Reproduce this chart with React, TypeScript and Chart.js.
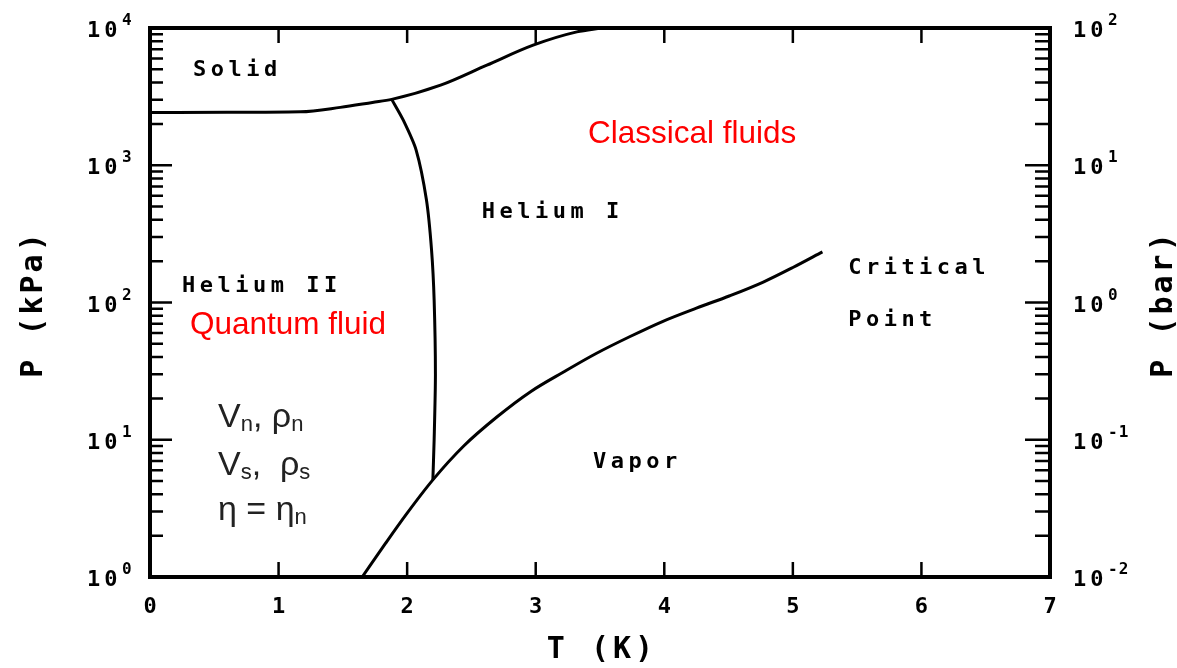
import React, { useEffect, useRef } from "react";
import { Chart, registerables } from "chart.js";
Chart.register(...registerables);

// Melting curve (solid / liquid boundary), T in K, P in kPa
const meltT = [0, 0.6, 1.17, 1.48, 1.73, 1.88, 2.26, 2.62, 2.98, 3.32, 3.51];
const meltP = [2420, 2430, 2450, 2640, 2870, 3020, 3830, 5360, 7500, 9370, 10000];

// Lambda line (He I / He II boundary)
const lambdaT = [1.88, 1.97, 2.07, 2.15, 2.19, 2.21, 2.22, 2.21, 2.2];
const lambdaP = [3020, 2130, 1290, 560, 240, 104, 30, 10, 5.1];

// Saturated vapour pressure curve up to the critical point
const vaporT = [1.65, 1.83, 2.0, 2.2, 2.44, 2.7, 2.96, 3.22, 3.47, 3.73, 3.99, 4.25, 4.51, 4.77, 5.0, 5.23];
const vaporP = [1.0, 1.75, 2.92, 5.1, 9.0, 14.7, 22.4, 31.3, 42.5, 56.3, 73, 91, 112, 141, 180, 234];

// Axes
const xTickValues = [0, 1, 2, 3, 4, 5, 6, 7];
const xTickLabels = ["0", "1", "2", "3", "4", "5", "6", "7"];
const yMajorKPa = [1, 10, 100, 1000, 10000];
const yExpKPa = ["0", "1", "2", "3", "4"];
const yMajorBar = [0.01, 0.1, 1, 10, 100];
const yExpBar = ["-2", "-1", "0", "1", "2"];
const minorMultipliers = [2, 3, 4, 5, 6, 7, 8, 9];

// Annotation texts with anchor (T, P[kPa])
const monoLabels = ["Solid", "Helium I", "Helium II", "Critical", "Point", "Vapor"];
const monoLabelT = [0.334, 2.58, 0.249, 5.43, 5.43, 3.445];
const monoLabelP = [4457, 412, 119, 161, 67.3, 6.22];

const redLabels = ["Classical fluids", "Quantum fluid"];
const redLabelT = [3.407, 0.311];
const redLabelP = [1449, 58.9];

const greekT = 0.529;
const greekP = [12.4, 5.53, 2.6];

const MONO = "'DejaVu Sans Mono', monospace";
const SANS = "'Liberation Sans', Arial, sans-serif";

function spaced(ctx: CanvasRenderingContext2D, text: string, x: number, y: number, spacing: number, align: string = "left") {
  const ws: number[] = [];
  let w = 0;
  for (const ch of text) {
    const cw = ctx.measureText(ch).width;
    ws.push(cw);
    w += cw;
  }
  w += spacing * Math.max(0, ws.length - 1);
  let cx = align === "center" ? x - w / 2 : align === "right" ? x - w : x;
  ctx.textAlign = "left";
  let i = 0;
  for (const ch of text) {
    ctx.fillText(ch, cx, y);
    cx += ws[i++] + spacing;
  }
  return w;
}

const decorPlugin = {
  id: "decor",
  afterDraw(chart: any) {
    const ctx: CanvasRenderingContext2D = chart.ctx;
    const a = chart.chartArea;
    const xs = chart.scales.x;
    const ys = chart.scales.y;
    const y2 = chart.scales.y2;
    ctx.save();
    ctx.strokeStyle = "#000";
    ctx.fillStyle = "#000";
    ctx.lineCap = "butt";

    // ticks
    ctx.lineWidth = 2.5;
    ctx.beginPath();
    for (let d = 0; d < yMajorKPa.length; d++) {
      const base = yMajorKPa[d];
      const p = ys.getPixelForValue(base);
      ctx.moveTo(a.left, p);
      ctx.lineTo(a.left + 22, p);
      if (d < yMajorKPa.length - 1) {
        for (const m of minorMultipliers) {
          const pm = ys.getPixelForValue(base * m);
          ctx.moveTo(a.left, pm);
          ctx.lineTo(a.left + 13, pm);
        }
      }
    }
    for (let d = 0; d < yMajorBar.length; d++) {
      const base = yMajorBar[d];
      const p = y2.getPixelForValue(base);
      ctx.moveTo(a.right, p);
      ctx.lineTo(a.right - 25, p);
      if (d < yMajorBar.length - 1) {
        for (const m of minorMultipliers) {
          const pm = y2.getPixelForValue(base * m);
          ctx.moveTo(a.right, pm);
          ctx.lineTo(a.right - 15, pm);
        }
      }
    }
    for (let i = 1; i < xTickValues.length - 1; i++) {
      const px = xs.getPixelForValue(xTickValues[i]);
      ctx.moveTo(px, a.bottom);
      ctx.lineTo(px, a.bottom - 15);
      ctx.moveTo(px, a.top);
      ctx.lineTo(px, a.top + 15);
    }
    ctx.stroke();

    // frame
    ctx.lineWidth = 4;
    ctx.strokeRect(a.left, a.top, a.right - a.left, a.bottom - a.top);

    ctx.textBaseline = "alphabetic";
    // x tick labels
    ctx.font = `bold 22px ${MONO}`;
    for (let i = 0; i < xTickValues.length; i++) {
      spaced(ctx, xTickLabels[i], xs.getPixelForValue(xTickValues[i]), a.bottom + 36, 0, "center");
    }
    // y tick labels
    for (let i = 0; i < yMajorKPa.length; i++) {
      const p = ys.getPixelForValue(yMajorKPa[i]);
      ctx.font = `bold 22px ${MONO}`;
      spaced(ctx, "10", a.left - 63, p + 9, 4);
      ctx.font = `bold 16px ${MONO}`;
      spaced(ctx, yExpKPa[i], a.left - 28, p - 3, 1);
    }
    for (let i = 0; i < yMajorBar.length; i++) {
      const p = y2.getPixelForValue(yMajorBar[i]);
      ctx.font = `bold 22px ${MONO}`;
      spaced(ctx, "10", a.right + 23, p + 9, 4);
      ctx.font = `bold 16px ${MONO}`;
      spaced(ctx, yExpBar[i], a.right + 58, p - 3, 1);
    }

    // axis titles
    ctx.font = `bold 30px ${MONO}`;
    spaced(ctx, "T (K)", (a.left + a.right) / 2, a.bottom + 81, 4, "center");
    const midY = (a.top + a.bottom) / 2 + 3;
    ctx.save();
    ctx.translate(a.left - 108, midY);
    ctx.rotate(-Math.PI / 2);
    spaced(ctx, "P (kPa)", 0, 0, 3, "center");
    ctx.restore();
    ctx.save();
    ctx.translate(a.right + 122, midY);
    ctx.rotate(-Math.PI / 2);
    spaced(ctx, "P (bar)", 0, 0, 3, "center");
    ctx.restore();

    // region labels (mono)
    ctx.font = `bold 22px ${MONO}`;
    for (let i = 0; i < monoLabels.length; i++) {
      spaced(ctx, monoLabels[i], xs.getPixelForValue(monoLabelT[i]), ys.getPixelForValue(monoLabelP[i]), 4.5);
    }

    // red labels
    ctx.fillStyle = "#ff0000";
    ctx.font = `31.5px ${SANS}`;
    for (let i = 0; i < redLabels.length; i++) {
      ctx.textAlign = "left";
      ctx.fillText(redLabels[i], xs.getPixelForValue(redLabelT[i]), ys.getPixelForValue(redLabelP[i]));
    }

    // greek property labels
    ctx.fillStyle = "#222";
    const gx = xs.getPixelForValue(greekT);
    const lines: [string, boolean][][] = [
      [["V", false], ["n", true], [", ", false], ["\u03C1", false], ["n", true]],
      [["V", false], ["s", true], [",  ", false], ["\u03C1", false], ["s", true]],
      [["\u03B7", false], [" = ", false], ["\u03B7", false], ["n", true]],
    ];
    for (let l = 0; l < lines.length; l++) {
      const by = ys.getPixelForValue(greekP[l]);
      let cx = gx;
      for (const [t, sub] of lines[l]) {
        ctx.font = sub ? `22px ${SANS}` : `34px ${SANS}`;
        ctx.textAlign = "left";
        ctx.fillText(t, cx, sub ? by + 4 : by);
        cx += ctx.measureText(t).width;
      }
    }
    ctx.restore();
  },
};

export default function App() {
  const ref = useRef<HTMLCanvasElement>(null);
  useEffect(() => {
    document.body.style.margin = "0";
    const toPts = (xs: number[], ys: number[]) => xs.map((x, i) => ({ x, y: ys[i] }));
    const common = {
      showLine: true,
      pointRadius: 0,
      borderColor: "#000",
      backgroundColor: "#000",
      borderWidth: 3,
      fill: false,
    };
    const chart = new Chart(ref.current as HTMLCanvasElement, {
      type: "scatter",
      data: {
        datasets: [
          { ...common, label: "Melting curve", data: toPts(meltT, meltP), cubicInterpolationMode: "monotone" },
          { ...common, label: "Lambda line", data: toPts(lambdaT, lambdaP), tension: 0.25 },
          { ...common, label: "Vapor pressure", data: toPts(vaporT, vaporP), cubicInterpolationMode: "monotone" },
        ],
      } as any,
      options: {
        responsive: false,
        animation: false,
        layout: { padding: { left: 150, right: 127, top: 28, bottom: 91 } },
        plugins: { legend: { display: false }, tooltip: { enabled: false } },
        scales: {
          x: { type: "linear", min: 0, max: 7, display: false },
          y: { type: "logarithmic", min: 1, max: 10000, display: false },
          y2: { type: "logarithmic", min: 0.01, max: 100, display: false, position: "right" },
        },
      } as any,
      plugins: [decorPlugin],
    });
    return () => chart.destroy();
  }, []);
  return <canvas ref={ref} width={1177} height={668} style={{ display: "block" }} />;
}
